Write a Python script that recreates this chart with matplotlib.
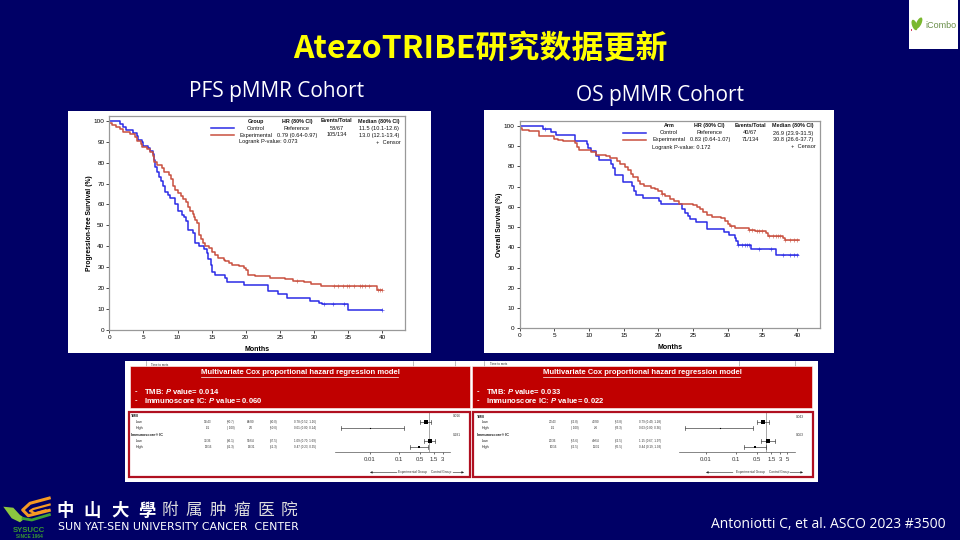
import numpy as np
import matplotlib
matplotlib.use("Agg")
import matplotlib.pyplot as plt
from matplotlib.patches import Rectangle, Polygon, Ellipse

plt.rcParams["mathtext.fontset"] = "custom"
plt.rcParams["mathtext.bfit"] = "Liberation Sans:italic:bold"

NAVY = "#000066"
RED = "#c00000"
BLUE = "#2b2be6"
ORANGE_RED = "#c9503f"
SANS = ["Liberation Sans", "DejaVu Sans"]
CJK = ["Noto Sans CJK SC", "DejaVu Sans"]

# PFS curves (month, % at start of step)
pfs_ctrl_x = [0, 1.6, 2, 2.4, 3.5, 4, 4.2, 4.8, 5, 5.7, 6, 6.4, 6.5, 6.7, 7, 7.3, 7.6, 7.9, 8.1, 8.6, 8.9, 9.7, 10, 10.6,
              11, 11.3, 11.5, 12.2, 12.5, 12.6, 13.1, 13.9, 14.3, 14.5, 14.9, 15, 15.5, 17, 17.3, 19.8, 23.2, 24.8, 26,
              29.4, 30.8, 31.2, 35, 40]
pfs_ctrl_y = [100, 98.5, 97, 95.5, 94, 92.5, 91, 90, 88, 87, 85.5, 84, 81, 78, 75.5, 73, 71, 69, 66, 64.5, 63, 60, 57, 55,
              54, 52, 48, 46.5, 44, 41.5, 40, 38.5, 37, 34, 31, 27.7, 26.2, 25, 23, 21.5, 18.5, 17, 15.4,
              14, 13, 12.3, 9.7, 9.7]
pfs_exp_x = [0, 0.4, 1, 1.6, 2, 3, 3.7, 4, 4.7, 4.8, 5.5, 6, 6.4, 6.6, 7, 7.7, 8, 8.8, 9, 9.3, 9.6, 10, 10.5, 10.8, 11.3,
             11.6, 11.8, 12.2, 12.4, 12.6, 12.9, 13.1, 13.2, 13.5, 13.7, 14, 14.6, 15, 15.5, 16, 16.8, 17, 17.5, 18, 19,
             19.7, 20, 20.4, 21.3, 23.5, 25.7, 27, 28.5, 29.5, 31, 39.2, 40]
pfs_exp_y = [99, 98, 97, 96, 94.5, 93.5, 92, 90.5, 89, 87.5, 86.5, 85, 83, 80.5, 79, 77.5, 75.5, 74, 72, 69, 67, 65.3, 64, 62.5, 61,
             59, 57, 55.5, 54, 52.5, 51, 47, 45.5, 43.5, 41.5, 40, 39, 37.5, 36, 34.5, 33.5, 32.8, 32, 31, 30.5,
             29.5, 28.5, 26.5, 25.8, 25, 24.2, 23.5, 22.7, 22, 21.2, 19.2, 19.2]
pfs_ctrl_cens = [31.4, 32.8, 34.4, 40]
pfs_exp_cens = [27.5, 32.9, 33.5, 34.2, 34.9, 35.2, 35.9, 36.8, 37, 37.5, 38, 39.4, 39.7, 40]

# OS curves
os_ctrl_x = [0, 3.4, 4.5, 5.2, 8, 9.7, 9.9, 10.3, 11, 11.4, 13.2, 13.5, 13.8, 14.9, 16.2, 16.5, 16.8, 17.8, 20.1, 20.4,
             23.4, 23.8, 24.2, 24.6, 25.4, 27, 29.5, 30.2, 31, 31.2, 31.5, 33.3, 37, 40.1]
os_ctrl_y = [100, 98.5, 97, 95.5, 92.3, 91, 89, 87.5, 85, 83, 81, 79, 75.5, 72.3, 70.5, 68, 66, 64.5, 63, 61.5,
             59, 57, 55.5, 54, 52.3, 49.2, 47.7, 46.1, 44.5, 43, 41, 39, 36, 36]
os_exp_x = [0, 0.3, 1.4, 2.8, 5, 5.5, 6.3, 8, 8.2, 8.5, 10.3, 11, 12.5, 13, 14, 14.4, 15.2, 15.6, 16, 16.4, 17, 17.3, 17.9,
            19, 19.5, 20, 20.5, 21, 21.6, 22.3, 22.9, 25, 25.6, 26, 26.5, 27, 27.7, 29, 29.6, 30, 30.3, 31, 33, 33.9,
            35.5, 35.8, 38, 38.2, 40.2]
os_exp_y = [99, 98, 97.3, 95, 93.5, 93, 92.5, 91.5, 89.5, 88, 87, 85.8, 85, 84.2, 82.5, 81, 79.5, 78, 76, 74.5, 73, 71.5, 70.3,
            69.5, 68.7, 68, 66.5, 65.5, 64, 63, 61.5, 60.8, 60, 59, 57.5, 56, 55, 54.3, 53, 51.5, 50.3, 49.4, 48.7, 48,
            47, 45.5, 44.5, 43.6, 43.6]
os_ctrl_cens = [3.7, 31.5, 32, 32.5, 32.8, 33.1, 34.5, 36.3, 38, 39, 39.6, 40]
os_exp_cens = [20.5, 30.5, 33, 33.5, 34.2, 34.5, 35, 36, 36.5, 37, 37.2, 37.5, 38.3, 39, 39.5, 40]

# legend tables
pfs_legend = [["Group", "HR (80% CI)", "Events/Total", "Median (80% CI)"],
              ["Control", "Reference", "58/67", "11.5 (10.1-12.6)"],
              ["Experimental", "0.79 (0.64-0.97)", "105/134", "13.0 (12.1-13.4)"]]
os_legend = [["Arm", "HR (80% CI)", "Events/Total", "Median (80% CI)"],
             ["Control", "Reference", "40/67", "26.9 (23.9-31.5)"],
             ["Experimental", "0.83 (0.64-1.07)", "71/134", "30.8 (26.6-37.7)"]]

# forest tables
row_names = ["TMB", "Low", "High", "Immunoscore\u00ae IC", "Low", "High"]
left_table = [["39/43", "(90.7)", "64/80", "(80.0)", "0.78 (0.52, 1.16)"],
              ["1/1", "( 100)", "3/6", "(50.0)", "0.01 (0.00, 0.14)"],
              ["31/36", "(86.1)", "56/64", "(87.5)", "1.09 (0.70, 1.69)"],
              ["13/16", "(81.3)", "19/31", "(61.3)", "0.47 (0.23, 0.95)"]]
right_table = [["27/43", "(62.8)", "43/80", "(53.8)", "0.79 (0.49, 1.28)"],
               ["1/1", "( 100)", "2/6", "(33.3)", "0.03 (0.00, 0.36)"],
               ["20/36", "(55.6)", "40/64", "(62.5)", "1.15 (0.67, 1.97)"],
               ["10/16", "(62.5)", "11/31", "(35.5)", "0.44 (0.19, 1.03)"]]
left_hr = [0.78, 0.01, 1.09, 0.47]
left_lo = [0.52, 0.001, 0.70, 0.23]
left_hi = [1.16, 0.14, 1.69, 0.95]
right_hr = [0.79, 0.03, 1.15, 0.44]
right_lo = [0.49, 0.002, 0.67, 0.19]
right_hi = [1.28, 0.36, 1.97, 1.03]
left_pvals = ["0.016", "0.281"]
right_pvals = ["0.043", "0.063"]
left_ticks = [0.01, 0.1, 0.5, 1.5, 3]
right_ticks = [0.01, 0.1, 0.5, 1.5, 3, 5]

fig = plt.figure(figsize=(9.6, 5.4), dpi=100, facecolor=NAVY)

# overlay in pixel coordinates for slide furniture
bg = fig.add_axes([0, 0, 1, 1], zorder=0)
bg.set_xlim(0, 960)
bg.set_ylim(540, 0)
bg.axis("off")
top = fig.add_axes([0, 0, 1, 1], zorder=10)
top.set_xlim(0, 960)
top.set_ylim(540, 0)
top.axis("off")
top.patch.set_alpha(0)


def sub_axes(x0, x1, y0, y1):
    """Axes placed by pixel edges (y measured from the top)."""
    return fig.add_axes([x0 / 960, 1 - y1 / 540, (x1 - x0) / 960, (y1 - y0) / 540], zorder=5)


def km_panel(box, ylabel, ctrl, exp, ctrl_cens, exp_cens):
    ax = sub_axes(*box)
    ax.patch.set_alpha(0)
    for (xs, ys), cens, color in ((ctrl, ctrl_cens, BLUE), (exp, exp_cens, ORANGE_RED)):
        ax.step(xs, ys, where="post", color=color, linewidth=1.1)
        idx = np.searchsorted(xs, cens, side="right") - 1
        ax.plot(cens, np.array(ys)[idx], "+", color=color, markersize=3.5, markeredgewidth=0.5, alpha=0.8)
    ax.set_xlim(0, 43.3)
    ax.set_ylim(0, 102.4)
    ax.set_xticks(range(0, 45, 5))
    ax.set_yticks(range(0, 110, 10))
    ax.tick_params(labelsize=4.6, length=2, width=0.5, pad=1.5)
    ax.set_xlabel("Months", fontsize=5, fontweight="bold", labelpad=4.5)
    ax.set_ylabel(ylabel, fontsize=4.9, fontweight="bold", labelpad=0.5)
    for s in ax.spines.values():
        s.set_color("#999999")
        s.set_linewidth(0.9)
    for lab in ax.get_xticklabels() + ax.get_yticklabels():
        lab.set_family(SANS)
    ax.xaxis.label.set_family(SANS)
    ax.yaxis.label.set_family(SANS)
    return ax


def km_legend(rows, cols, ys, line_x, logrank, lr_x, cens_x):
    for j, row in enumerate(rows):
        for c, txt in zip(cols, row):
            top.text(c, ys[j], txt, fontsize=3.9 if j == 0 else 4.1, family=SANS, ha="center", va="center",
                     fontweight="bold" if j == 0 else "normal", color="#111111")
    top.plot(line_x, [ys[1], ys[1]], color=BLUE, lw=1.1)
    top.plot(line_x, [ys[2], ys[2]], color=ORANGE_RED, lw=1.1)
    top.text(lr_x, ys[3], logrank, fontsize=4.1, family=SANS, ha="left", va="center", color="#111111")
    top.text(cens_x, ys[3], "+  Censor", fontsize=4.1, family=SANS, ha="right", va="center", color="#111111")


def forest_panel(x0, xlim, ref_axis_y, rows_y, table, cols, hr, lo, hi, pvals, p_x, ticks, name_x, rect):
    # red frame and row text
    top.add_patch(Rectangle((rect[0], rect[1]), rect[2] - rect[0], rect[3] - rect[1], fill=False, ec="#b01020", lw=1.6))
    head_rows = [rows_y[0], rows_y[3]]
    for name, y, indent in zip(row_names, rows_y, [0, 5, 5, 0, 5, 5]):
        top.text(name_x + indent, y, name, fontsize=2.7, family=SANS, va="center", color="#222222",
                 fontweight="bold" if indent == 0 else "normal")
    data_rows = [rows_y[1], rows_y[2], rows_y[4], rows_y[5]]
    for row, y in zip(table, data_rows):
        for c, txt in zip(cols, row):
            top.text(c, y, txt, fontsize=2.2, family=SANS, va="center", ha="center", color="#333333")
    for p, y in zip(pvals, head_rows):
        top.text(p_x, y, p, fontsize=2.3, family=SANS, va="center", ha="center", color="#333333")

    ax = sub_axes(x0[0], x0[1], rows_y[0] - 5, ref_axis_y)
    ax.patch.set_alpha(0)
    ax.set_xscale("log")
    ax.set_xlim(*xlim)
    ax.set_ylim(ref_axis_y, rows_y[0] - 5)
    ax.axvline(1, color="#999999", lw=0.6)
    for h, l, u, y, big in zip(hr, lo, hi, data_rows, [1, 0, 1, 0]):
        ax.plot([l, u], [y, y], color="#444444", lw=0.5)
        for end in (l, u):
            ax.plot([end, end], [y - 2, y + 2], color="#444444", lw=0.5)
        ax.plot(h, y, "s", color="black", markersize=3 if big else 0.8 if h < 0.1 else 1.8, markeredgewidth=0)
    for s in ("left", "right", "top"):
        ax.spines[s].set_visible(False)
    ax.spines["bottom"].set_color("#555555")
    ax.spines["bottom"].set_linewidth(0.5)
    ax.set_yticks([])
    ax.set_xticks(ticks)
    ax.set_xticklabels([str(t) for t in ticks], fontsize=4.3, family=SANS, color="#333333")
    ax.minorticks_off()
    ax.tick_params(axis="x", length=1.5, width=0.4, pad=2)


def spaced(text, x0, x1, y, **kw):
    pos = np.linspace(x0, x1, len(text))
    for ch, x in zip(text, pos):
        top.text(x, y, ch, ha="center", va="center", **kw)


def arrow(x_from, x_to, y):
    top.annotate("", xy=(x_to, y), xytext=(x_from, y),
                 arrowprops=dict(arrowstyle="-|>", lw=0.4, color="#222222", mutation_scale=3, shrinkA=0, shrinkB=0))


# white backgrounds
bg.add_patch(Rectangle((68, 111), 363, 242, fc="white", ec="none"))
bg.add_patch(Rectangle((484, 110), 350, 243, fc="white", ec="none"))
bg.add_patch(Rectangle((125, 361), 693, 121, fc="white", ec="none"))
bg.add_patch(Rectangle((909, 0), 49, 49, fc="white", ec="none"))

# titles
top.text(480, 49, "AtezoTRIBE研究数据更新", fontsize=23, family=CJK, fontweight="bold", color="#ffff00",
         ha="center", va="center")
top.text(276.5, 92, "PFS pMMR Cohort", fontsize=15, family="Open Sans", color="white", ha="center", va="center")
top.text(659.5, 96, "OS pMMR Cohort", fontsize=15, family="Open Sans", color="white", ha="center", va="center")
top.text(946, 525, "Antoniotti C, et al. ASCO 2023 #3500", fontsize=10, family="Open Sans", color="white",
         ha="right", va="center")

# survival panels
km_panel((109.3, 404.7, 115.7, 330), "Progression-free Survival (%)",
         (pfs_ctrl_x, pfs_ctrl_y), (pfs_exp_x, pfs_exp_y), pfs_ctrl_cens, pfs_exp_cens)
km_panel((519.7, 820, 121, 328.3), "Overall Survival (%)",
         (os_ctrl_x, os_ctrl_y), (os_exp_x, os_exp_y), os_ctrl_cens, os_exp_cens)
km_legend(pfs_legend, [256, 297, 336.7, 379], [121, 128.3, 135, 142], [211, 234],
          "Logrank P-value: 0.073", 239, 401)
km_legend(os_legend, [669, 709.7, 750, 793], [125.7, 133, 139.7, 147], [623, 646],
          "Logrank P-value: 0.172", 651.7, 816)

# table remnants showing behind the banners
for x, y0, y1 in ((146, 361, 366), (413, 361, 366), (455, 361, 366), (484, 361, 366), (795, 361, 366), (739, 361, 366)):
    bg.plot([x, x], [y0, y1], color="#888888", lw=0.4)
top.text(151, 365.5, "Time to mets", fontsize=2.2, family=SANS, va="center", color="#333333")
top.text(490, 364.3, "Time to mets", fontsize=2.2, family=SANS, va="center", color="#333333")

# red banners
for x0, x1, p1, p2 in ((130, 470, "0.014", "0.060"), (472, 812, "0.033", "0.022")):
    top.add_patch(Rectangle((x0, 366), x1 - x0, 42, fc=RED, ec="#ffffff", lw=0.4))
    top.text((x0 + x1) / 2, 373, "Multivariate Cox proportional hazard regression model", fontsize=5.5,
             family=SANS, fontweight="bold", color="white", ha="center", va="center")
    top.plot([x0 + 71, x1 - 72], [376.8, 376.8], color="white", lw=0.5)
    for y, lead, val in ((391.7, "TMB: ", p1), (400.7, "Immunoscore IC: ", p2)):
        top.text(x0 + 5, y, "-", fontsize=5.5, family=SANS, fontweight="bold", color="white", va="center")
        top.text(x0 + 14, y, lead + r"$\bfit{P}$" + " value= " + val, fontsize=5.5, family=SANS, fontweight="bold",
                 color="white", ha="left", va="center")

# forest plots
forest_panel((335, 450), (10 ** -3.193, 10 ** 0.727), 451.7, [416, 422, 428.3, 435, 440.7, 446.7],
             left_table, [208, 231, 251, 274, 304.7], left_hr, left_lo, left_hi, left_pvals, 456.7, left_ticks, 131,
             (129, 412, 470, 477))
forest_panel((679, 795), (10 ** -2.9, 10 ** 0.967), 451.7, [416.5, 422.3, 428.3, 435, 440.7, 446.7],
             right_table, [553, 575, 596, 619, 650], right_hr, right_lo, right_hi, right_pvals, 800, right_ticks, 477,
             (473, 412, 813, 477))
for a0, a1, lx0, lx1, b0, b1 in ((397, 370, 398, 431, 453, 464), (733, 706, 736, 769, 790, 803)):
    arrow(a0, a1, 472.4)
    top.text(lx0, 472.4, "Experimental Group", fontsize=2.3, family=SANS, va="center", color="#333333")
    top.text(lx1, 472.4, "Control Group", fontsize=2.3, family=SANS, va="center", color="#333333")
    arrow(b0, b1, 472.4)

# hospital mark
top.plot([50.7, 30, 22.7, 28.3, 50.7], [497.7, 503.3, 510, 515.7, 510], color="#f59a23", lw=2.2,
         solid_joinstyle="round", solid_capstyle="butt")
top.plot([50.7, 33.3, 30, 35, 46.7], [504.3, 509, 511, 513.3, 510], color="#f59a23", lw=1.6,
         solid_joinstyle="round", solid_capstyle="butt")
top.plot([50.7, 31.7, 21.7], [514.3, 520, 518.3], color="#3fa535", lw=2.0, solid_joinstyle="round",
         solid_capstyle="butt")
top.add_patch(Polygon([(3.3, 506.7), (13.3, 507.7), (20, 515), (25, 518.3), (20, 522.3), (11.7, 518.3)],
                      fc="#8cc63f", ec="none"))
top.text(29, 530, "SYSUCC", fontsize=5.6, family=SANS, fontweight="bold", color="#3a9a30", ha="center", va="center")
top.text(29, 536, "SINCE 1964", fontsize=3.4, family=SANS, fontweight="bold", color="#3a9a30", ha="center", va="center")
spaced("中山大學", 65, 147, 510.5, fontsize=12.5, family=["Noto Sans CJK TC"], fontweight="bold", color="white")
spaced("附属肿瘤医院", 170, 289, 510.5, fontsize=12, family=CJK, color="#dddddd")
top.text(57.5, 527.5, "SUN YAT-SEN UNIVERSITY CANCER  CENTER", fontsize=7.9, family="DejaVu Sans", color="white",
         ha="left", va="center")

# iCombo mark
top.add_patch(Ellipse((914.5, 25), 5, 11, angle=-20, fc="#7ab82e", ec="none"))
top.add_patch(Ellipse((919, 23), 5, 12, angle=25, fc="#7ab82e", ec="none"))
top.add_patch(Rectangle((910.5, 28.5), 1.5, 2, fc="#d04060", ec="none"))
top.text(925.5, 25, "iCombo", fontsize=6.5, family=SANS, color="#6a8f4a", ha="left", va="center")

fig.savefig("out.png", dpi=100, facecolor=fig.get_facecolor())
